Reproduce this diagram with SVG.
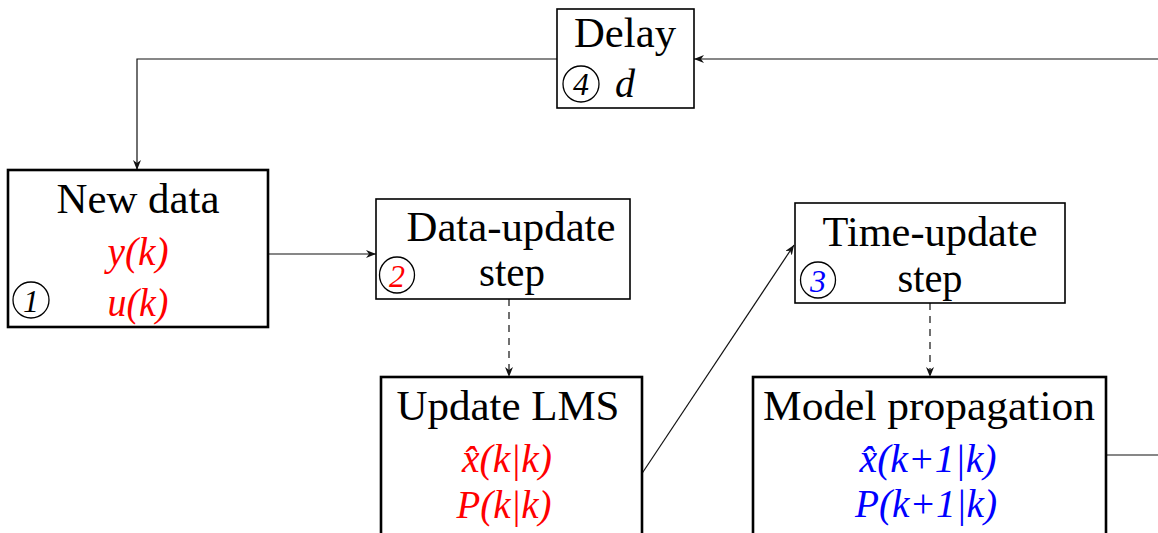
<svg xmlns="http://www.w3.org/2000/svg" width="1158" height="533" viewBox="0 0 1158 533">
<defs>
<marker id="ah" viewBox="0 0 10 8" refX="10" refY="4" markerWidth="10" markerHeight="8" markerUnits="userSpaceOnUse" orient="auto">
<path d="M0,0 L10,4 L0,8 L3,4 z" fill="#111"/>
</marker>
<style>
.box{fill:#fff;stroke:#000;stroke-width:1.6}
.thick{stroke-width:2.6}
.t{font-family:'Liberation Serif','Times New Roman',serif;font-size:42px;fill:#000;text-anchor:middle}
.m{font-family:'Liberation Serif','Times New Roman',serif;font-style:italic;font-size:40px;text-anchor:middle}
.red{fill:#ff0000}
.blue{fill:#0000ff}
.num{font-family:'Liberation Serif','Times New Roman',serif;font-style:italic;font-size:32px;text-anchor:middle}
.circ{fill:none;stroke:#000;stroke-width:1.3}
.ln{fill:none;stroke:#111;stroke-width:1.2}
.dash{stroke-dasharray:7,6}
</style>
</defs>
<g id="connectors">
<path class="ln" d="M1158,59 L694,59" marker-end="url(#ah)"/>
<path class="ln" d="M557,59 L137,59 L137,170" marker-end="url(#ah)"/>
<path class="ln" d="M268,254 L376,254" marker-end="url(#ah)"/>
<path class="ln dash" d="M509,299 L509,377" marker-end="url(#ah)"/>
<path class="ln" d="M641,475 L794,245" marker-end="url(#ah)"/>
<path class="ln dash" d="M930,303 L930,377" marker-end="url(#ah)"/>
<path class="ln" d="M1106,455 L1158,455"/>
</g>
<g id="delay">
<rect class="box" x="557" y="9" width="137" height="99"/>
<text class="t" x="625" y="47" textLength="102" lengthAdjust="spacingAndGlyphs">Delay</text>
<ellipse class="circ" cx="581" cy="84" rx="18" ry="18"/>
<text class="num" x="581" y="95">4</text>
<text class="m" x="625" y="97" style="font-size:40px">d</text>
</g>
<g id="new-data">
<rect class="box thick" x="8" y="170" width="260" height="157"/>
<text class="t" x="138" y="213" textLength="163" lengthAdjust="spacingAndGlyphs">New data</text>
<text class="m red" x="138" y="265" textLength="61" lengthAdjust="spacingAndGlyphs">y(k)</text>
<text class="m red" x="138" y="316" textLength="61" lengthAdjust="spacingAndGlyphs">u(k)</text>
<ellipse class="circ" cx="31" cy="300" rx="18" ry="18"/>
<text class="num" x="31" y="312">1</text>
</g>
<g id="data-update">
<rect class="box" x="376" y="199" width="254" height="100"/>
<text class="t" x="511" y="241" textLength="209" lengthAdjust="spacingAndGlyphs">Data-update</text>
<text class="t" x="512" y="286" textLength="66" lengthAdjust="spacingAndGlyphs">step</text>
<ellipse class="circ" cx="397" cy="275" rx="17.5" ry="18"/>
<text class="num red" x="397" y="287">2</text>
</g>
<g id="time-update">
<rect class="box" x="795" y="203" width="270" height="100"/>
<text class="t" x="930" y="246" textLength="215" lengthAdjust="spacingAndGlyphs">Time-update</text>
<text class="t" x="930" y="292" textLength="65" lengthAdjust="spacingAndGlyphs">step</text>
<ellipse class="circ" cx="818" cy="280" rx="17.5" ry="18"/>
<text class="num blue" x="818" y="292">3</text>
</g>
<g id="update-lms">
<rect class="box thick" x="381" y="377" width="261" height="170"/>
<text class="t" x="508" y="420" textLength="223" lengthAdjust="spacingAndGlyphs">Update LMS</text>
<text class="m red" x="507" y="472" textLength="90" lengthAdjust="spacingAndGlyphs">x&#x302;(k|k)</text>
<text class="m red" x="504" y="518" textLength="95" lengthAdjust="spacingAndGlyphs">P(k|k)</text>
</g>
<g id="model-propagation">
<rect class="box thick" x="753" y="377" width="353" height="170"/>
<text class="t" x="929" y="420" textLength="332" lengthAdjust="spacingAndGlyphs">Model propagation</text>
<text class="m blue" x="928" y="472" textLength="137" lengthAdjust="spacingAndGlyphs">x&#x302;(k+1|k)</text>
<text class="m blue" x="926" y="517" textLength="142" lengthAdjust="spacingAndGlyphs">P(k+1|k)</text>
</g>
</svg>
